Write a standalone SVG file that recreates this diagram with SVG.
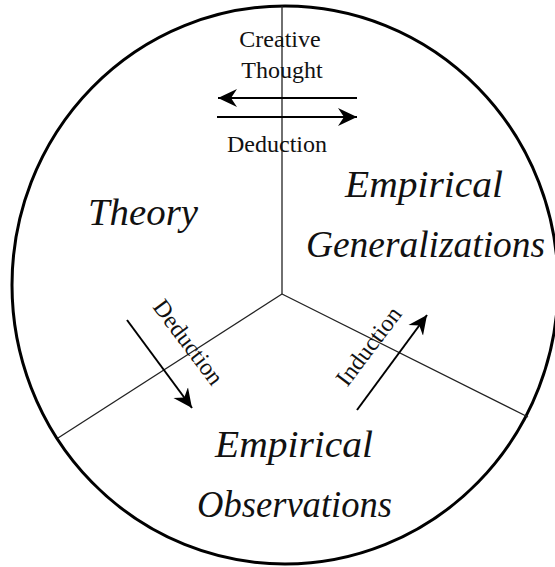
<svg xmlns="http://www.w3.org/2000/svg" width="555" height="567" viewBox="0 0 555 567">
<defs>
<style>
.circle{fill:none;stroke:#000;stroke-width:3}
.div{fill:none;stroke:#222;stroke-width:1.3}
.arr{fill:none;stroke:#000;stroke-width:2;marker-end:url(#head)}
.lbl{font-family:"Liberation Serif","Times New Roman",serif;font-size:24px;fill:#111;text-anchor:middle}
.big{font-family:"Liberation Serif","Times New Roman",serif;font-style:italic;font-size:38px;fill:#111}
</style>
<marker id="head" markerUnits="userSpaceOnUse" markerWidth="20" markerHeight="20" viewBox="-19 -10 20 20" refX="0" refY="0" orient="auto">
<path d="M0,0 L-19,-9 L-13,0 L-19,9 Z" fill="#000"/>
</marker>
</defs>
<rect width="555" height="567" fill="#fff"/>
<ellipse class="circle" cx="285" cy="285" rx="273" ry="279"/>
<g id="connectors">
<line class="div" x1="282" y1="6" x2="282" y2="294"/>
<line class="div" x1="282" y1="294" x2="58" y2="438"/>
<line class="div" x1="282" y1="294" x2="528" y2="417"/>
<line class="arr" x1="357" y1="98" x2="218" y2="98"/>
<line class="arr" x1="217" y1="117" x2="357" y2="117"/>
<line class="arr" x1="127" y1="320" x2="192" y2="408"/>
<line class="arr" x1="357" y1="410" x2="427" y2="315"/>
<text class="lbl" x="280" y="47">Creative</text>
<text class="lbl" x="282" y="78">Thought</text>
<text class="lbl" x="277" y="152">Deduction</text>
<text class="lbl" transform="translate(182,347) rotate(53)" x="0" y="0">Deduction</text>
<text class="lbl" transform="translate(375,351) rotate(-53)" x="0" y="0">Induction</text>
</g>
<g id="theory"><text class="big" x="88" y="225" textLength="110" lengthAdjust="spacingAndGlyphs">Theory</text></g>
<g id="generalizations">
<text class="big" x="345" y="197" textLength="158" lengthAdjust="spacingAndGlyphs">Empirical</text>
<text class="big" x="306" y="257" textLength="239" lengthAdjust="spacingAndGlyphs">Generalizations</text>
</g>
<g id="observations">
<text class="big" x="215" y="457" textLength="158" lengthAdjust="spacingAndGlyphs">Empirical</text>
<text class="big" x="197" y="517" textLength="195" lengthAdjust="spacingAndGlyphs">Observations</text>
</g>
</svg>
